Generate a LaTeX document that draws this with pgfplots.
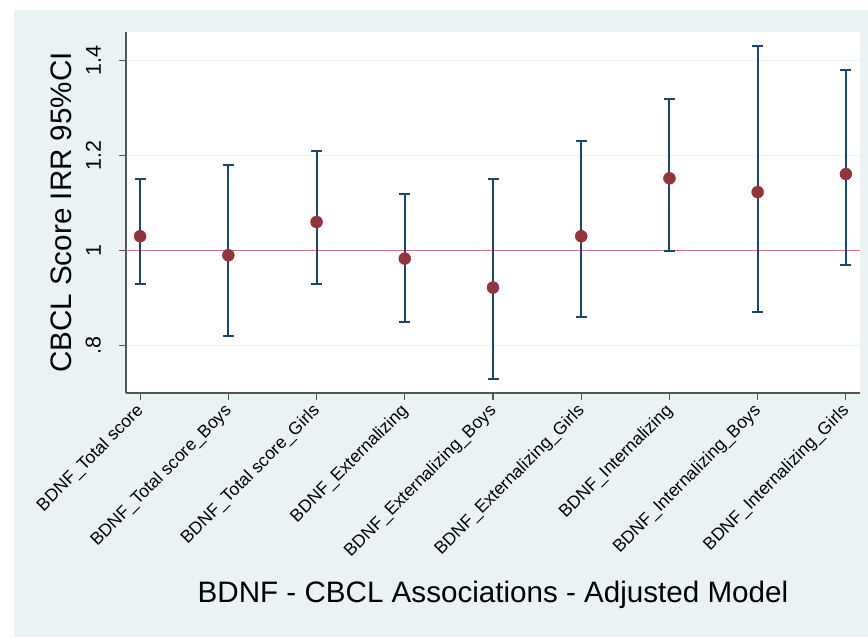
\documentclass[border=0pt]{standalone}
\usepackage{pgfplots}
\pgfplotsset{compat=1.18}
\usepackage{fontspec}
\setmainfont{Liberation Sans}
\definecolor{bgc}{RGB}{234,242,243}
\definecolor{navy}{RGB}{26,71,111}
\definecolor{maroon}{RGB}{144,53,59}
\definecolor{refl}{RGB}{214,110,140}
\definecolor{axc}{RGB}{85,85,85}
\begin{document}
\begin{tikzpicture}[x=1pt,y=1pt]
\fill[bgc] (14,0) rectangle (868,627);
\begin{axis}[
  at={(126pt,244pt)}, anchor=south west,
  scale only axis, width=734pt, height=361pt,
  xmin=0.84, xmax=9.16, ymin=0.70, ymax=1.46,
  axis background/.style={fill=white},
  axis x line*=bottom, axis y line*=left,
  axis line style={axc, line width=1.2pt},
  xtick={1,2,3,4,5,6,7,8,9},
  xticklabels={BDNF\_Total score, BDNF\_Total score\_Boys, BDNF\_Total score\_Girls, BDNF\_Externalizing, BDNF\_Externalizing\_Boys, BDNF\_Externalizing\_Girls, BDNF\_Internalizing, BDNF\_Internalizing\_Boys, BDNF\_Internalizing\_Girls},
  ytick={0.8,1,1.2,1.4}, yticklabels={.8,1,1.2,1.4},
  tick align=outside, major tick length=7pt,
  tick style={axc, line width=1.2pt},
  ymajorgrids, grid style={bgc, line width=1.2pt},
  xticklabel shift=9pt, yticklabel shift=16pt,
  xticklabel style={rotate=45, anchor=east, inner sep=2pt, xshift=3pt, font=\fontsize{17.5}{17.5}\selectfont},
  yticklabel style={rotate=90, anchor=south, inner sep=2pt, font=\fontsize{21.5}{21.5}\selectfont},
  xlabel={BDNF - CBCL Associations - Adjusted Model},
  ylabel={CBCL Score IRR 95\%CI},
  label style={font=\fontsize{29.6}{29.6}\selectfont},
  xlabel style={at={(axis description cs:0.5,-0.579)}, anchor=base},
  ylabel style={at={(axis description cs:-0.0736,0.5)}, anchor=base},
  clip=false,
]
\addplot[refl, line width=1.2pt] coordinates {(0.84,1) (9.16,1)};
\addplot[only marks, mark=*, mark size=6pt, mark options={fill=maroon, draw=maroon},
  error bars/.cd, y dir=both, y explicit,
  error bar style={navy, line width=2pt},
  error mark options={rotate=90, mark size=5.5pt, line width=2pt, navy}]
  coordinates {
  (1,1.03) += (0,0.12) -= (0,0.10)
  (2,0.99) += (0,0.19) -= (0,0.17)
  (3,1.06) += (0,0.15) -= (0,0.13)
  (4,0.983) += (0,0.137) -= (0,0.133)
  (5,0.922) += (0,0.228) -= (0,0.192)
  (6,1.03) += (0,0.20) -= (0,0.17)
  (7,1.152) += (0,0.168) -= (0,0.152)
  (8,1.123) += (0,0.307) -= (0,0.253)
  (9,1.161) += (0,0.219) -= (0,0.191)
  };
\end{axis}
\pgfresetboundingbox
\path (0,0) rectangle (868,637);
\end{tikzpicture}
\end{document}
